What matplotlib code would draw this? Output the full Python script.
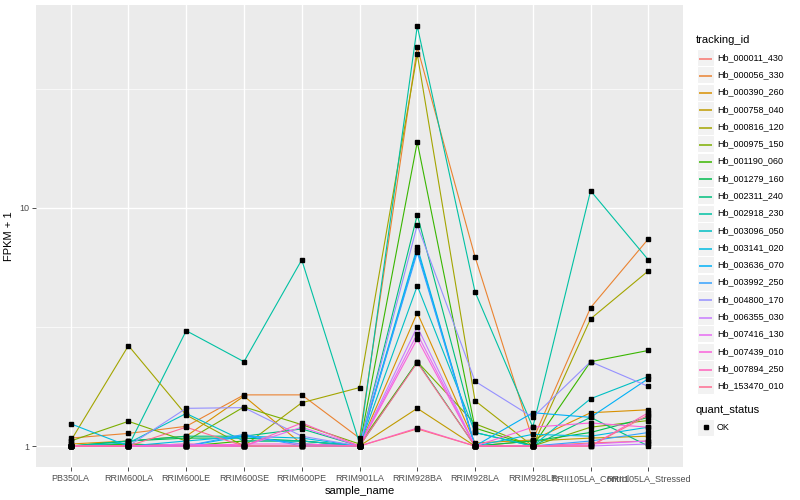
import numpy as np
import matplotlib
matplotlib.use("Agg")
import matplotlib.pyplot as plt
from matplotlib.patches import Rectangle

plt.rcParams['font.family'] = ['Liberation Sans', 'DejaVu Sans']

samples = ['PB350LA', 'RRIM600LA', 'RRIM600LE', 'RRIM600SE', 'RRIM600PE', 'RRIM901LA',
           'RRIM928BA', 'RRIM928LA', 'RRIM928LE', 'RRII105LA_Control', 'RRII105LA_Stressed']

tracking_ids = ['Hb_000011_430', 'Hb_000056_330', 'Hb_000390_260', 'Hb_000758_040',
                'Hb_000816_120', 'Hb_000975_150', 'Hb_001190_060', 'Hb_001279_160',
                'Hb_002311_240', 'Hb_002918_230', 'Hb_003096_050', 'Hb_003141_020',
                'Hb_003636_070', 'Hb_003992_250', 'Hb_004800_170', 'Hb_006355_030',
                'Hb_007416_130', 'Hb_007439_010', 'Hb_007894_250', 'Hb_153470_010']

# FPKM + 1 per gene, one value per sample
fpkm = [
    [1.00, 1.00, 1.02, 1.00, 1.00, 1.00, 1.18, 1.00, 1.00, 1.03, 1.05],
    [1.08, 1.13, 1.21, 1.64, 1.64, 1.08, 47.3, 6.23, 1.06, 3.81, 7.41],
    [1.02, 1.05, 1.10, 1.62, 1.02, 1.00, 3.63, 1.03, 1.06, 1.38, 1.42],
    [1.00, 1.02, 1.00, 1.00, 1.00, 1.00, 1.44, 1.00, 1.05, 1.08, 1.10],
    [1.05, 2.64, 1.35, 1.00, 1.52, 1.76, 44.2, 1.55, 1.00, 3.42, 5.44],
    [1.05, 1.27, 1.05, 1.46, 1.23, 1.02, 2.26, 1.24, 1.00, 1.20, 1.28],
    [1.00, 1.02, 1.00, 1.05, 1.05, 1.00, 18.9, 1.19, 1.00, 2.26, 2.52],
    [1.00, 1.05, 1.08, 1.08, 1.05, 1.00, 2.26, 1.00, 1.05, 1.14, 1.32],
    [1.00, 1.05, 1.10, 1.10, 1.18, 1.00, 9.35, 1.14, 1.00, 1.32, 1.00],
    [1.00, 1.00, 3.05, 2.26, 6.05, 1.03, 58.0, 4.44, 1.20, 11.8, 6.05],
    [1.00, 1.03, 1.37, 1.05, 1.05, 1.00, 4.71, 1.14, 1.00, 1.58, 1.96],
    [1.24, 1.00, 1.05, 1.10, 1.08, 1.00, 6.86, 1.00, 1.12, 1.10, 1.20],
    [1.00, 1.00, 1.00, 1.10, 1.02, 1.00, 6.67, 1.00, 1.38, 1.32, 1.92],
    [1.00, 1.00, 1.00, 1.12, 1.00, 1.00, 6.50, 1.00, 1.00, 1.05, 1.14],
    [1.00, 1.00, 1.44, 1.45, 1.10, 1.00, 8.48, 1.87, 1.32, 2.26, 1.78],
    [1.00, 1.00, 1.00, 1.00, 1.00, 1.00, 3.17, 1.00, 1.00, 1.00, 1.02],
    [1.00, 1.00, 1.02, 1.00, 1.20, 1.00, 2.96, 1.00, 1.00, 1.02, 1.05],
    [1.00, 1.00, 1.00, 1.02, 1.02, 1.00, 2.82, 1.00, 1.20, 1.25, 1.20],
    [1.00, 1.00, 1.00, 1.00, 1.25, 1.00, 1.19, 1.00, 1.00, 1.00, 1.38],
    [1.00, 1.00, 1.20, 1.00, 1.00, 1.00, 2.24, 1.00, 1.00, 1.00, 1.35],
]

colors = ['#F8766D', '#EA8331', '#D89000', '#C09B00', '#A3A500', '#7CAE00', '#39B600',
          '#00BB4E', '#00BF7D', '#00C1A3', '#00BFC4', '#00BAE0', '#00B0F6', '#35A2FF',
          '#9590FF', '#C77CFF', '#E76BF3', '#FA62DB', '#FF62BC', '#FF6C91']

W, H = 800, 500
fig = plt.figure(figsize=(8, 5), dpi=100)
ax = fig.add_axes([36 / W, 1 - 467 / H, (683 - 36) / W, 462 / H])
ax.set_facecolor('#EBEBEB')

x = np.arange(len(samples))
for vals, c in zip(fpkm, colors):
    ax.plot(x, vals, color=c, lw=0.8, zorder=2)
for vals in fpkm:
    ax.plot(x, vals, 's', color='black', ms=2.2, zorder=3, lw=0)

ax.set_yscale('log')
ax.set_ylim(10 ** -0.088, 10 ** 1.852)
ax.set_xlim(-0.6, len(samples) - 0.4)
ax.set_yticks([1, 10])
ax.set_yticklabels(['1', '10'])
ax.set_yticks([10 ** 0.5, 10 ** 1.5], minor=True)
ax.yaxis.set_minor_formatter(plt.NullFormatter())
ax.set_xticks(x)
ax.set_xticklabels(samples)
ax.grid(True, which='major', color='white', lw=1.0, zorder=0)
ax.grid(True, which='minor', axis='y', color='white', lw=0.5, zorder=0)
ax.set_axisbelow(True)
for s in ax.spines.values():
    s.set_visible(False)
ax.tick_params(axis='both', which='major', length=3, width=0.6, color='#333333',
               labelsize=6.5, labelcolor='#4D4D4D', pad=2)
ax.tick_params(axis='y', which='minor', length=0)
ax.set_xlabel('sample_name', fontsize=8, labelpad=2)
ax.set_ylabel('FPKM + 1', fontsize=8, labelpad=4)

# legends
lg = fig.add_axes([0, 0, 1, 1])
lg.set_xlim(0, W)
lg.set_ylim(H, 0)
lg.axis('off')
lg.text(696, 40, 'tracking_id', fontsize=8, va='center', ha='left')
y0, step = 57.5, 17.28
for i, (name, c) in enumerate(zip(tracking_ids, colors)):
    yc = y0 + i * step
    lg.add_patch(Rectangle((697, yc - 8.5), 17, 17, facecolor='#F2F2F2', edgecolor='white', lw=0.8))
    lg.plot([699, 712], [round(yc) + 0.5, round(yc) + 0.5], color=c, lw=1.1,
            solid_capstyle='butt')
    lg.text(717, yc, name, fontsize=6.5, va='center', ha='left')
lg.text(696, 410, 'quant_status', fontsize=8, va='center', ha='left')
lg.add_patch(Rectangle((697, 418.5), 17, 17, facecolor='#F2F2F2', edgecolor='white', lw=0.8))
lg.plot([705.5], [427], 's', color='black', ms=2.2)
lg.text(717, 427, 'OK', fontsize=6.5, va='center', ha='left')

fig.savefig('out.png', dpi=100)
